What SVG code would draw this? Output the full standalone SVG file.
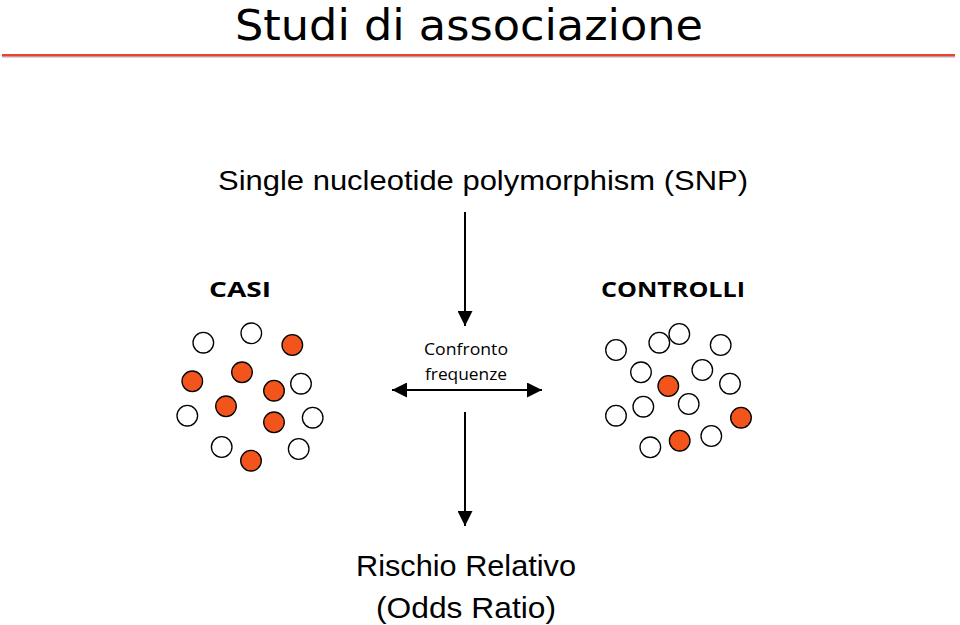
<svg xmlns="http://www.w3.org/2000/svg" width="960" height="625" viewBox="0 0 960 625">
<style>
.comic{font-family:"Comic Sans MS","Open Sans","DejaVu Sans",sans-serif;fill:#000}
.ttl{font-family:"Comic Sans MS","DejaVu Sans",sans-serif;fill:#000}
.sans{font-family:"Liberation Sans",Arial,sans-serif;fill:#000}
.w{fill:#fff;stroke:#000;stroke-width:1.3}
.o{fill:#f2541b;stroke:#000;stroke-width:1.3}
.ln{stroke:#000;stroke-width:2;fill:none}
</style>
<defs>
<marker id="ah" viewBox="0 0 10 10" refX="10" refY="5" markerWidth="15" markerHeight="15" markerUnits="userSpaceOnUse" orient="auto">
<path d="M0,0 L10,5 L0,10 Z" fill="#000"/>
</marker>
</defs>
<rect width="960" height="625" fill="#fff"/>
<g id="title">
<text class="ttl" x="469" y="40" font-size="42" text-anchor="middle" textLength="468" lengthAdjust="spacingAndGlyphs">Studi di associazione</text>
<line x1="2" y1="57" x2="955" y2="57" stroke="#9fb3dc" stroke-width="1"/>
<line x1="2" y1="55.3" x2="955" y2="55.3" stroke="#e8452a" stroke-width="2.4"/>
</g>
<g id="snp"><text class="sans" x="483" y="190" font-size="28" text-anchor="middle" textLength="530" lengthAdjust="spacingAndGlyphs">Single nucleotide polymorphism (SNP)</text></g>
<g id="casi-label"><text class="comic" x="240" y="297" font-size="22" font-weight="bold" text-anchor="middle" textLength="62" lengthAdjust="spacingAndGlyphs">CASI</text></g>
<g id="controlli-label"><text class="comic" x="673" y="297" font-size="22" font-weight="bold" text-anchor="middle" textLength="144" lengthAdjust="spacingAndGlyphs">CONTROLLI</text></g>
<g id="casi">
<circle class="w" cx="203.3" cy="342.7" r="10.3"/>
<circle class="w" cx="251.3" cy="333.3" r="10.3"/>
<circle class="o" cx="292.3" cy="345" r="10.3"/>
<circle class="o" cx="242" cy="372.3" r="10.3"/>
<circle class="o" cx="192.3" cy="381.3" r="10.3"/>
<circle class="o" cx="274" cy="390.7" r="10.3"/>
<circle class="w" cx="301" cy="383.7" r="10.3"/>
<circle class="o" cx="226" cy="406.3" r="10.3"/>
<circle class="w" cx="187.3" cy="415.7" r="10.3"/>
<circle class="o" cx="274" cy="422.3" r="10.3"/>
<circle class="w" cx="312.7" cy="417.7" r="10.3"/>
<circle class="w" cx="221.7" cy="447" r="10.3"/>
<circle class="w" cx="298.7" cy="449" r="10.3"/>
<circle class="o" cx="251" cy="460.7" r="10.3"/>
</g>
<g id="controlli">
<circle class="w" cx="616" cy="350" r="10.3"/>
<circle class="w" cx="659.3" cy="342.7" r="10.3"/>
<circle class="w" cx="679.3" cy="334" r="10.3"/>
<circle class="w" cx="720.7" cy="345" r="10.3"/>
<circle class="w" cx="641" cy="372.3" r="10.3"/>
<circle class="w" cx="702.3" cy="370" r="10.3"/>
<circle class="w" cx="730" cy="383.7" r="10.3"/>
<circle class="o" cx="668.3" cy="386" r="10.3"/>
<circle class="w" cx="643.3" cy="406.7" r="10.3"/>
<circle class="w" cx="688.7" cy="404" r="10.3"/>
<circle class="w" cx="616" cy="415.7" r="10.3"/>
<circle class="o" cx="741" cy="417.7" r="10.3"/>
<circle class="w" cx="711.3" cy="436" r="10.3"/>
<circle class="o" cx="679.7" cy="440.7" r="10.3"/>
<circle class="w" cx="650.3" cy="447.3" r="10.3"/>
</g>
<g id="confronto">
<text class="comic" x="466" y="355" font-size="17" text-anchor="middle" textLength="84" lengthAdjust="spacingAndGlyphs">Confronto</text>
<text class="comic" x="466" y="380" font-size="17" text-anchor="middle" textLength="82" lengthAdjust="spacingAndGlyphs">frequenze</text>
</g>
<g id="rischio">
<text class="sans" x="466" y="576" font-size="29" text-anchor="middle" textLength="220" lengthAdjust="spacingAndGlyphs">Rischio Relativo</text>
<text class="sans" x="466" y="618" font-size="29" text-anchor="middle" textLength="180" lengthAdjust="spacingAndGlyphs">(Odds Ratio)</text>
</g>
<g id="connectors">
<line class="ln" x1="465" y1="212" x2="465" y2="326" marker-end="url(#ah)"/>
<line class="ln" x1="465" y1="412" x2="465" y2="526" marker-end="url(#ah)"/>
<line class="ln" x1="466" y1="390" x2="392" y2="390" marker-end="url(#ah)"/>
<line class="ln" x1="466" y1="390" x2="542" y2="390" marker-end="url(#ah)"/>
</g>
</svg>
